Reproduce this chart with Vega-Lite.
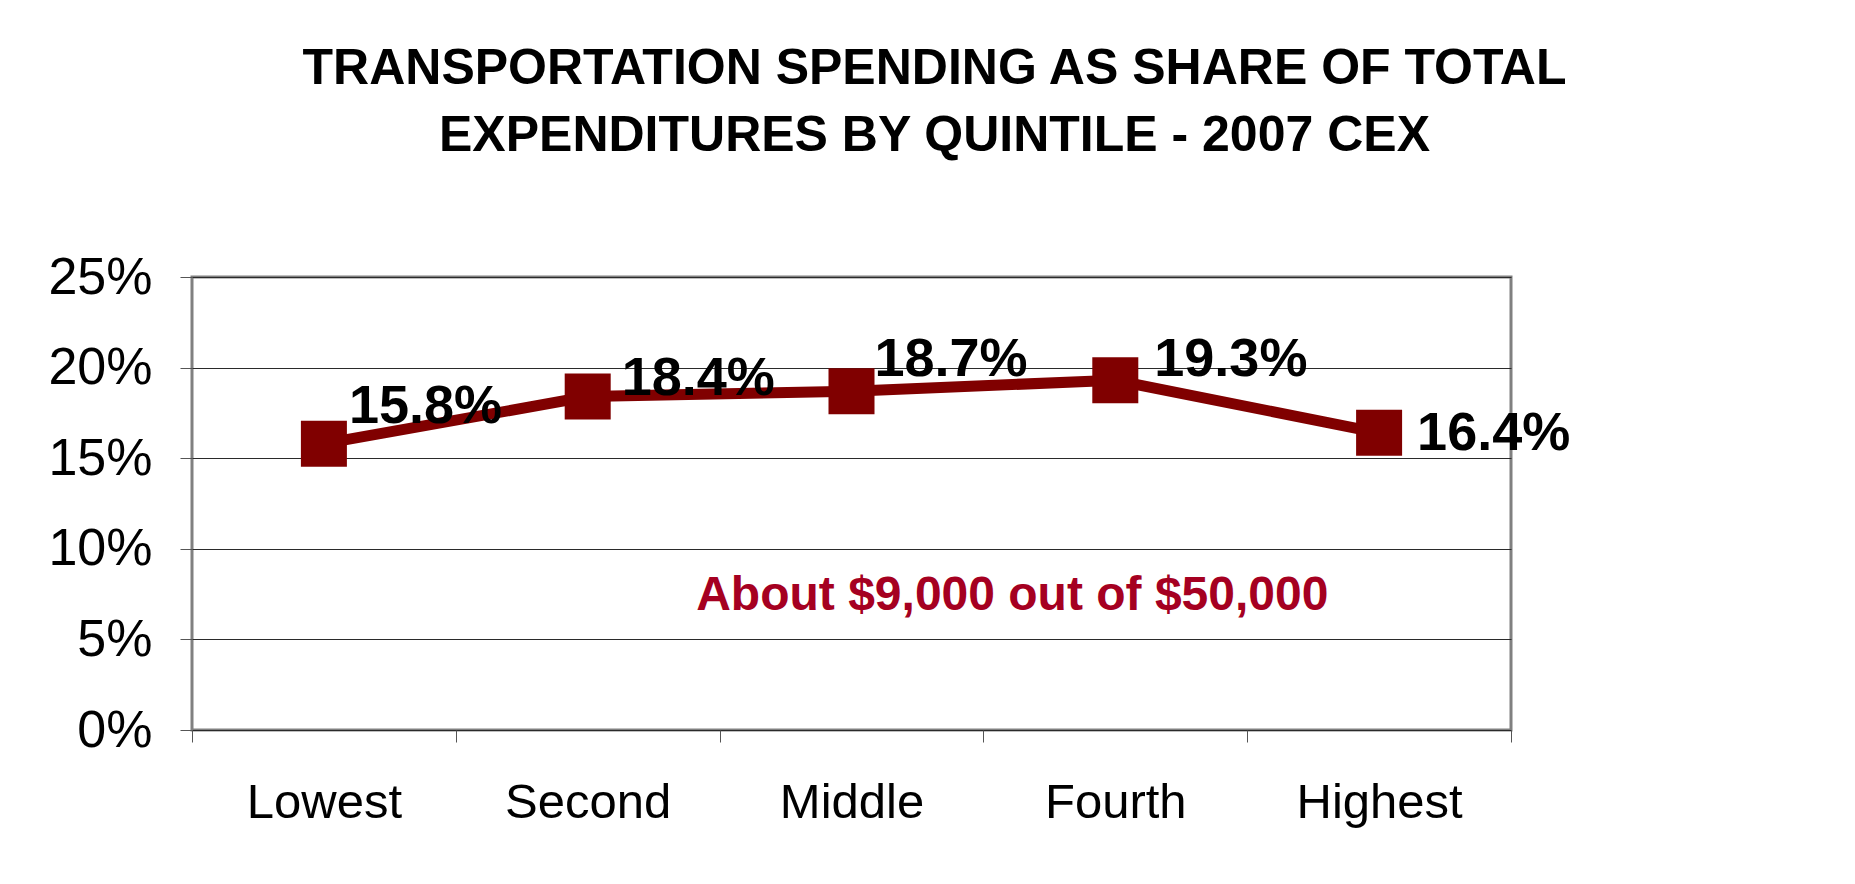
{
  "$schema": "https://vega.github.io/schema/vega-lite/v6.json",
  "autosize": "none",
  "width": 1319,
  "height": 453,
  "padding": {"left": 192, "top": 277, "right": 344, "bottom": 154},
  "background": "white",
  "config": {
    "font": "Liberation Sans",
    "view": {"stroke": "#808080", "strokeWidth": 3}
  },
  "title": {
    "text": ["TRANSPORTATION SPENDING AS SHARE OF TOTAL", "EXPENDITURES BY QUINTILE - 2007 CEX"],
    "font": "Liberation Sans",
    "fontSize": 50,
    "fontWeight": "bold",
    "color": "black",
    "lineHeight": 67,
    "anchor": "middle",
    "frame": "group",
    "dx": 83,
    "offset": 90
  },
  "data": {
    "values": [
      {"quintile": "Lowest", "share": 0.158, "label": "15.8%"},
      {"quintile": "Second", "share": 0.184, "label": "18.4%"},
      {"quintile": "Middle", "share": 0.187, "label": "18.7%"},
      {"quintile": "Fourth", "share": 0.193, "label": "19.3%"},
      {"quintile": "Highest", "share": 0.164, "label": "16.4%"}
    ]
  },
  "encoding": {
    "x": {
      "field": "quintile",
      "type": "nominal",
      "sort": null,
      "scale": {"paddingInner": 0, "paddingOuter": 0},
      "axis": {
        "title": null,
        "labelAngle": 0,
        "labelFontSize": 49,
        "labelColor": "black",
        "labelPadding": 36,
        "tickBand": "extent",
        "tickSize": 12,
        "tickColor": "#555",
        "domain": false,
        "grid": false
      }
    },
    "y": {
      "field": "share",
      "type": "quantitative",
      "scale": {"domain": [0, 0.25], "nice": false},
      "axis": {
        "title": null,
        "values": [0, 0.05, 0.1, 0.15, 0.2, 0.25],
        "format": ".0%",
        "labelFontSize": 52,
        "labelColor": "black",
        "labelPadding": 28,
        "tickSize": 12,
        "tickColor": "#555",
        "domain": false,
        "grid": true,
        "gridColor": "#2a2a2a",
        "gridWidth": 1.2
      }
    }
  },
  "layer": [
    {"mark": {"type": "line", "color": "#800000", "strokeWidth": 11}},
    {"mark": {"type": "point", "shape": "square", "filled": true, "size": 2116, "color": "#800000", "opacity": 1}},
    {
      "transform": [{"filter": "datum.quintile === 'Lowest'"}],
      "mark": {"type": "text", "align": "left", "baseline": "alphabetic", "dx": 25, "dy": -21, "fontSize": 54, "fontWeight": "bold", "color": "black"},
      "encoding": {"text": {"field": "label"}}
    },
    {
      "transform": [{"filter": "datum.quintile === 'Second'"}],
      "mark": {"type": "text", "align": "left", "baseline": "alphabetic", "dx": 34, "dy": -2, "fontSize": 54, "fontWeight": "bold", "color": "black"},
      "encoding": {"text": {"field": "label"}}
    },
    {
      "transform": [{"filter": "datum.quintile === 'Middle'"}],
      "mark": {"type": "text", "align": "left", "baseline": "alphabetic", "dx": 23, "dy": -15, "fontSize": 54, "fontWeight": "bold", "color": "black"},
      "encoding": {"text": {"field": "label"}}
    },
    {
      "transform": [{"filter": "datum.quintile === 'Fourth'"}],
      "mark": {"type": "text", "align": "left", "baseline": "alphabetic", "dx": 39, "dy": -4, "fontSize": 54, "fontWeight": "bold", "color": "black"},
      "encoding": {"text": {"field": "label"}}
    },
    {
      "transform": [{"filter": "datum.quintile === 'Highest'"}],
      "mark": {"type": "text", "align": "left", "baseline": "alphabetic", "dx": 38, "dy": 17, "fontSize": 54, "fontWeight": "bold", "color": "black"},
      "encoding": {"text": {"field": "label"}}
    },
    {
      "data": {"values": [{"quintile": "Fourth", "share": 0.066, "note": "About $9,000 out of $50,000"}]},
      "mark": {"type": "text", "align": "center", "baseline": "alphabetic", "dx": -103, "fontSize": 48, "fontWeight": "bold", "color": "#A50021"},
      "encoding": {"text": {"field": "note"}}
    }
  ]
}
